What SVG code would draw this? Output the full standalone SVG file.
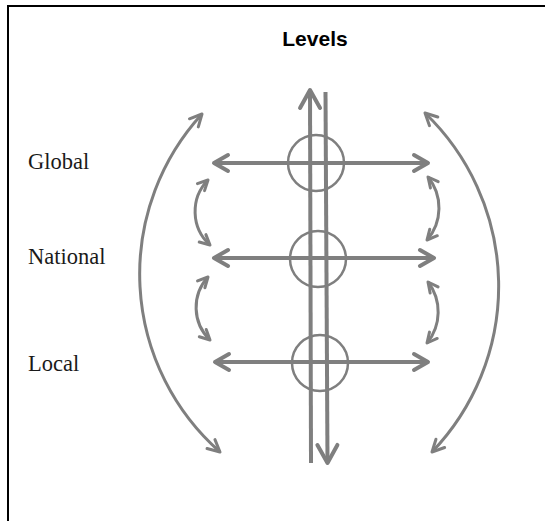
<svg xmlns="http://www.w3.org/2000/svg" width="545" height="521" viewBox="0 0 545 521">
<style>
.ln{fill:none;stroke:#7f7f7f;stroke-width:4}
.arc{fill:none;stroke:#7f7f7f;stroke-width:3}
.ring{fill:none;stroke:#7f7f7f;stroke-width:2.5}
.lbl{font-family:"Liberation Serif","Times New Roman",serif;font-size:22.5px;fill:#1a1a1a}
.ttl{font-family:"Liberation Sans",Arial,sans-serif;font-size:21px;font-weight:bold;fill:#000}
</style>
<defs>
<marker id="ah" markerUnits="userSpaceOnUse" viewBox="0 0 18 20" refX="16" refY="10" markerWidth="18" markerHeight="20" orient="auto-start-reverse" overflow="visible">
<path d="M2,2 L16,10 L2,18" fill="none" stroke="#7f7f7f" stroke-width="4" stroke-linecap="round" stroke-linejoin="round"/>
</marker>
<marker id="av" markerUnits="userSpaceOnUse" viewBox="0 0 22 24" refX="20" refY="12" markerWidth="22" markerHeight="24" orient="auto-start-reverse" overflow="visible">
<path d="M2,2 L20,12 L2,22" fill="none" stroke="#7f7f7f" stroke-width="4" stroke-linecap="round" stroke-linejoin="round"/>
</marker>
<marker id="ab" markerUnits="userSpaceOnUse" viewBox="0 0 16 16" refX="14" refY="8" markerWidth="16" markerHeight="16" orient="auto-start-reverse" overflow="visible">
<path d="M2,2 L14,8 L2,14" fill="none" stroke="#7f7f7f" stroke-width="3" stroke-linecap="round" stroke-linejoin="round"/>
</marker>
<marker id="as" markerUnits="userSpaceOnUse" viewBox="0 0 14 14" refX="12" refY="7" markerWidth="14" markerHeight="14" orient="auto-start-reverse" overflow="visible">
<path d="M2,2 L12,7 L2,12" fill="none" stroke="#7f7f7f" stroke-width="3" stroke-linecap="round" stroke-linejoin="round"/>
</marker>
</defs>
<rect width="545" height="521" fill="#fff"/>
<path d="M8,521 V6 H545" fill="none" stroke="#000" stroke-width="2"/>
<g id="title"><text class="ttl" x="315" y="46" text-anchor="middle">Levels</text></g>
<g id="global"><text class="lbl" x="28" y="169">Global</text><circle class="ring" cx="316" cy="163" r="28"/></g>
<g id="national"><text class="lbl" x="28" y="264">National</text><circle class="ring" cx="318" cy="259" r="28"/></g>
<g id="local"><text class="lbl" x="28" y="371">Local</text><circle class="ring" cx="320" cy="363" r="28"/></g>
<g id="connectors">
<path class="ln" d="M311,463 L310,90" marker-end="url(#av)"/>
<path class="ln" d="M325.5,92 L327.5,463" marker-end="url(#av)"/>
<path class="ln" d="M214,163 H428" marker-start="url(#ah)" marker-end="url(#ah)"/>
<path class="ln" d="M214,258 H434" marker-start="url(#ah)" marker-end="url(#ah)"/>
<path class="ln" d="M215,362 H428" marker-start="url(#ah)" marker-end="url(#ah)"/>
<path class="arc" d="M202,114 A237,237 0 0 0 220,452" marker-start="url(#ab)" marker-end="url(#ab)"/>
<path class="arc" d="M425,113 A240,240 0 0 1 432,452" marker-start="url(#ab)" marker-end="url(#ab)"/>
<path class="arc" d="M208,180 A45,45 0 0 0 210,245" marker-start="url(#as)" marker-end="url(#as)"/>
<path class="arc" d="M208,277 A45,45 0 0 0 210,340" marker-start="url(#as)" marker-end="url(#as)"/>
<path class="arc" d="M428,177 A49,49 0 0 1 427,240" marker-start="url(#as)" marker-end="url(#as)"/>
<path class="arc" d="M428,282 A49,49 0 0 1 427,343" marker-start="url(#as)" marker-end="url(#as)"/>
</g>
</svg>
